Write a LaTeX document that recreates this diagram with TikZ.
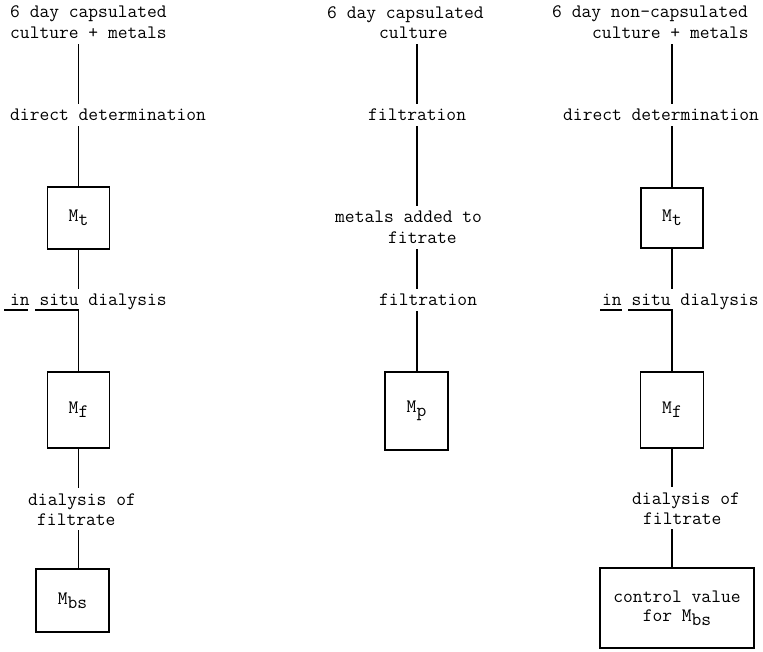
\documentclass[tikz,border=0pt]{standalone}
\usepackage{fontspec}
\newcommand{\Msb}[1]{M\raisebox{-4pt}{#1}}
\begin{document}
\begin{tikzpicture}[x=1pt,y=-1pt,
  lbl/.style={font=\fontsize{19}{21}\selectfont\ttfamily, inner xsep=0pt, inner ysep=5pt,
              text height=11.5pt, text depth=0pt, anchor=base west},
  mbox/.style={draw, line width=1.3pt, font=\fontsize{19}{21}\selectfont\ttfamily, inner sep=0pt, align=center},
  conn/.style={line width=1.3pt}]
\useasboundingbox (0,0) rectangle (763,652);
% ---------- column 1 ----------
\coordinate (c1) at (78.5,0);
\node[lbl] (h1a) at (10,18) {6 day capsulated};
\node[lbl] (h1b) at (10,39) {culture + metals};
\node[lbl] (dd1) at (10,121) {direct determination};
\node[mbox, minimum width=62pt, minimum height=62pt] (Mt1) at (78.5,218) {\Msb{t}};
\node[lbl] (is1) at (10,306) {in situ dialysis};
\node[mbox, minimum width=62pt, minimum height=76pt] (Mf1) at (78.5,410) {\Msb{f}};
\node[lbl] (do1) at (28,505) {dialysis of};
\node[lbl] (fi1) at (37,525) {filtrate};
\node[mbox, minimum width=73pt, minimum height=63pt] (Mbs1) at (72.5,600.5) {\Msb{bs}};
\draw[conn] (c1 |- h1b.south) -- (c1 |- dd1.north);
\draw[conn] (c1 |- dd1.south) -- (c1 |- Mt1.north);
\draw[conn] (c1 |- Mt1.south) -- (c1 |- is1.north);
\draw[conn] ([xshift=-6pt,yshift=-4pt]is1.base west) -- ++(24,0);
\draw[conn] ([xshift=25pt,yshift=-4pt]is1.base west) -| (Mf1.north);
\draw[conn] (c1 |- Mf1.south) -- (c1 |- do1.north);
\draw[conn] (c1 |- fi1.south) -- (c1 |- Mbs1.north);
% ---------- column 2 ----------
\coordinate (c2) at (417,0);
\node[lbl] (h2a) at (327,19) {6 day capsulated};
\node[lbl] (cu2) at (379,39) {culture};
\node[lbl] (fl2) at (368,121) {filtration};
\node[lbl] (ma2) at (335,223) {metals added to};
\node[lbl] (ft2) at (388,244) {fitrate};
\node[lbl] (fl2b) at (379,306) {filtration};
\node[mbox, minimum width=63pt, minimum height=78pt] (Mp) at (416.5,411) {\Msb{p}};
\draw[conn] (c2 |- cu2.south) -- (c2 |- fl2.north);
\draw[conn] (c2 |- fl2.south) -- (c2 |- ma2.north);
\draw[conn] (c2 |- ft2.south) -- (c2 |- fl2b.north);
\draw[conn] (c2 |- fl2b.south) -- (c2 |- Mp.north);
% ---------- column 3 ----------
\coordinate (c3) at (672,0);
\node[lbl] (h3a) at (552,18) {6 day non-capsulated};
\node[lbl] (h3b) at (592,39) {culture + metals};
\node[lbl] (dd3) at (563,121) {direct determination};
\node[mbox, minimum width=62pt, minimum height=60pt] (Mt3) at (672,218) {\Msb{t}};
\node[lbl] (is3) at (602,306) {in situ dialysis};
\node[mbox, minimum width=63pt, minimum height=76pt] (Mf3) at (672,410) {\Msb{f}};
\node[lbl] (do3) at (632,504) {dialysis of};
\node[lbl] (fi3) at (643,524) {filtrate};
\node[mbox, minimum width=154pt, minimum height=80pt] (ctrl) at (677,608) {control value\\[-2pt]for \Msb{bs}};
\draw[conn] (c3 |- h3b.south) -- (c3 |- dd3.north);
\draw[conn] (c3 |- dd3.south) -- (c3 |- Mt3.north);
\draw[conn] (c3 |- Mt3.south) -- (c3 |- is3.north);
\draw[conn] ([xshift=-2pt,yshift=-4pt]is3.base west) -- ++(22,0);
\draw[conn] ([xshift=26pt,yshift=-4pt]is3.base west) -| (Mf3.north);
\draw[conn] (c3 |- Mf3.south) -- (c3 |- do3.north);
\draw[conn] (c3 |- fi3.south) -- (c3 |- ctrl.north);
\end{tikzpicture}
\end{document}
